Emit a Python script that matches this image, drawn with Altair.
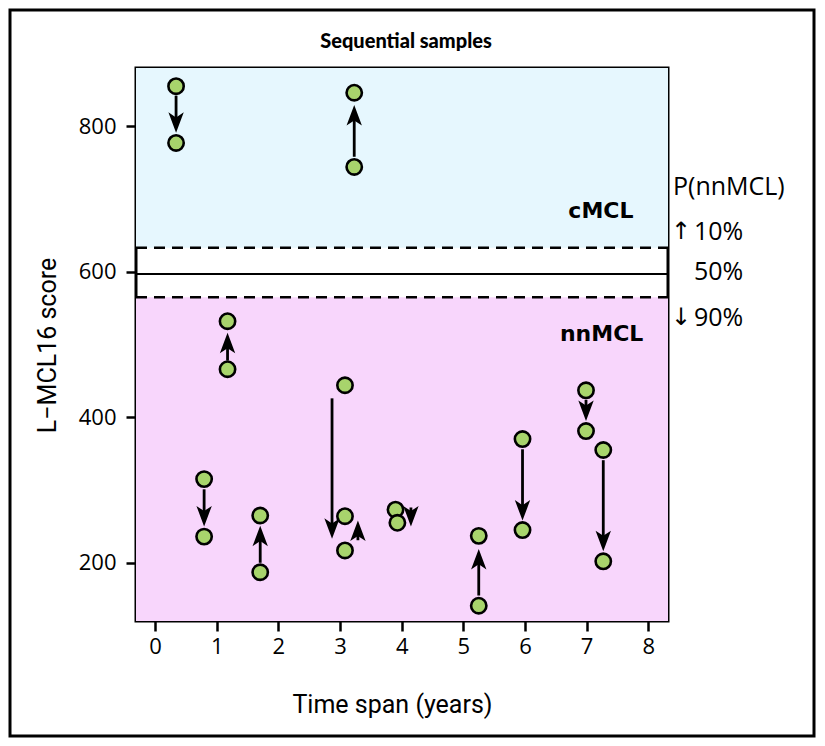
import altair as alt
import pandas as pd

# ---- data ----
# individual samples (time span in years, L-MCL16 score)
pt_x = [0.34, 0.34, 3.23, 3.23, 1.175, 1.175, 0.795, 0.795, 1.705, 1.705,
        3.08, 3.08, 3.08, 3.90, 3.93, 5.25, 5.25, 5.96, 5.96, 6.99, 6.99, 7.27, 7.27]
pt_y = [855, 777, 744, 846, 466, 532, 315, 236, 187, 265,
        444, 264, 217, 273, 255, 141, 237, 370, 245, 437, 381, 355, 202]

# arrows (x position, start score, tip score)
arr_x = [0.34, 3.23, 1.175, 0.795, 1.705, 2.87, 3.29, 4.15, 5.25, 5.96, 6.99, 7.27]
arr_from = [842, 758, 478, 301, 200, 426, 231, 276, 155, 356, 424, 341]
arr_to = [791, 829, 516, 250, 251, 233, 258, 250, 219, 258, 395, 216]

# thresholds
thr_dashed = [633, 565]
thr_solid = [597]

# shaded regions
reg_lo = [633, 120]
reg_hi = [880, 565]
reg_color = ["#e6f7fe", "#f8d6fc"]

# class labels
cls_text = ["cMCL", "nnMCL"]
cls_x = [7.76, 7.92]
cls_y = [684, 515]

# probability annotation on the right
prob_head = ["P(nnMCL)"]
prob_head_y = [716]
prob_text = ["10%", "50%", "90%"]
prob_y = [654, 599, 536]
prob_arrow = ["\u2191", "\u2193"]
prob_arrow_y = [654, 536]

title_text = ["Sequential samples"]

x_ticks = [0, 1, 2, 3, 4, 5, 6, 7, 8]
y_ticks = [200, 400, 600, 800]

# ---- layout ----
W, H = 532, 553
PADL, PADT = 128, 60
PADR = 808 - PADL - W
PADB = 730 - PADT - H

xscale = alt.Scale(domain=[-0.31, 8.32], nice=False, zero=False)
yscale = alt.Scale(domain=[120, 880], nice=False, zero=False)

TITLE_FONT = "Roboto"
xaxis = alt.Axis(values=x_ticks, title="Time span (years)", labelPadding=5,
                 titleX=256, titleY=91, titleBaseline="alphabetic",
                 titleFont=TITLE_FONT, titleFontSize=25, titleFontWeight="normal",
                 titleColor="black", labelFont="Open Sans", labelFontSize=22,
                 labelColor="black", tickColor="black", tickWidth=2.5, tickSize=10,
                 domain=False, grid=False)
yaxis = alt.Axis(values=y_ticks, title="L\u2212MCL16 score", labelPadding=10,
                 titleX=-81, titleY=277, titleBaseline="alphabetic", titleAlign="center",
                 titleFont=TITLE_FONT, titleFontSize=25, titleFontWeight="normal",
                 titleColor="black", labelFont="Open Sans", labelFontSize=22,
                 labelColor="black", tickColor="black", tickWidth=2.5, tickSize=10,
                 domain=False, grid=False)

def X(f):
    return alt.X(f, type="quantitative", scale=xscale, axis=xaxis)

def Y(f):
    return alt.Y(f, type="quantitative", scale=yscale, axis=yaxis)

pts = pd.DataFrame({"x": pt_x, "y": pt_y})
arr = pd.DataFrame({"x": arr_x, "y0": arr_from, "y1": arr_to})
arr["angle"] = [0 if b < a else 180 for a, b in zip(arr_from, arr_to)]
reg = pd.DataFrame({"lo": reg_lo, "hi": reg_hi, "c": reg_color})

regions = alt.Chart(reg).mark_rect().encode(
    x=alt.value(0), x2=alt.value(W), y=Y("lo"), y2="hi",
    color=alt.Color("c:N", scale=None))

dashed = alt.Chart(pd.DataFrame({"t": thr_dashed})).mark_rule(
    color="black", strokeWidth=2.5, strokeDash=[11, 7]).encode(
    x=alt.value(0), x2=alt.value(W), y=Y("t"))
solid = alt.Chart(pd.DataFrame({"t": thr_solid})).mark_rule(
    color="black", strokeWidth=2).encode(
    x=alt.value(0), x2=alt.value(W), y=Y("t"))

down = arr[arr["angle"] == 0]
up = arr[arr["angle"] == 180]
rule_down = alt.Chart(down).mark_rule(color="black", strokeWidth=2.8, y2Offset=-10).encode(
    x=X("x"), y=Y("y0"), y2="y1")
rule_up = alt.Chart(up).mark_rule(color="black", strokeWidth=2.8, y2Offset=10).encode(
    x=X("x"), y=Y("y0"), y2="y1")

HEAD = "M0,0 L-0.75,-2 L0,-1.5 L0.75,-2 Z"
heads = alt.Chart(arr).mark_point(shape=HEAD, size=420, filled=True, color="black",
                                  opacity=1, strokeWidth=0).encode(
    x=X("x"), y=Y("y1"), angle=alt.Angle("angle:Q", scale=None))

points = alt.Chart(pts).mark_circle(size=235, color="#a8d46c", stroke="black",
                                    strokeWidth=2.6, opacity=1).encode(
    x=X("x"), y=Y("y"))

cls = alt.Chart(pd.DataFrame({"t": cls_text, "x": cls_x, "y": cls_y})).mark_text(
    font="DejaVu Sans", fontWeight="bold", fontSize=22, align="right",
    baseline="middle", color="black").encode(x=X("x"), y=Y("y"), text="t:N")

phead = alt.Chart(pd.DataFrame({"t": prob_head, "y": prob_head_y})).mark_text(
    font="Open Sans", fontSize=25, align="left", baseline="middle", color="black").encode(
    x=alt.value(537), y=Y("y"), text="t:N")
ptext = alt.Chart(pd.DataFrame({"t": prob_text, "y": prob_y})).mark_text(
    font="Open Sans", fontSize=25, align="left", baseline="middle", color="black").encode(
    x=alt.value(558), y=Y("y"), text="t:N")
parrow = alt.Chart(pd.DataFrame({"t": prob_arrow, "y": prob_arrow_y})).mark_text(
    font="DejaVu Sans", fontSize=24, align="left", baseline="middle", color="black").encode(
    x=alt.value(535), y=Y("y"), text="t:N")

title = alt.Chart(pd.DataFrame({"t": title_text})).mark_text(
    font="Lato", fontSize=20, fontWeight=900, align="center",
    baseline="alphabetic", color="black").encode(
    x=alt.value(270), y=alt.value(-20), text="t:N")

frame = alt.Chart(pd.DataFrame({"a": [0]})).mark_rect(
    fillOpacity=0, stroke="black", strokeWidth=3).encode(
    x=alt.value(-PADL + 2), x2=alt.value(W + PADR - 2),
    y=alt.value(-PADT + 2), y2=alt.value(H + PADB - 2))

chart = alt.layer(
    regions, dashed, solid, points, rule_down, rule_up, heads, cls,
    phead, ptext, parrow, title, frame
).properties(
    width=W, height=H,
    autosize=alt.AutoSizeParams(type="none"),
    padding={"left": PADL, "top": PADT, "right": PADR, "bottom": PADB},
    background="white",
).configure_view(
    stroke="black", strokeWidth=3
)

chart.save("out.html", embed_options={"renderer": "svg", "actions": False})
